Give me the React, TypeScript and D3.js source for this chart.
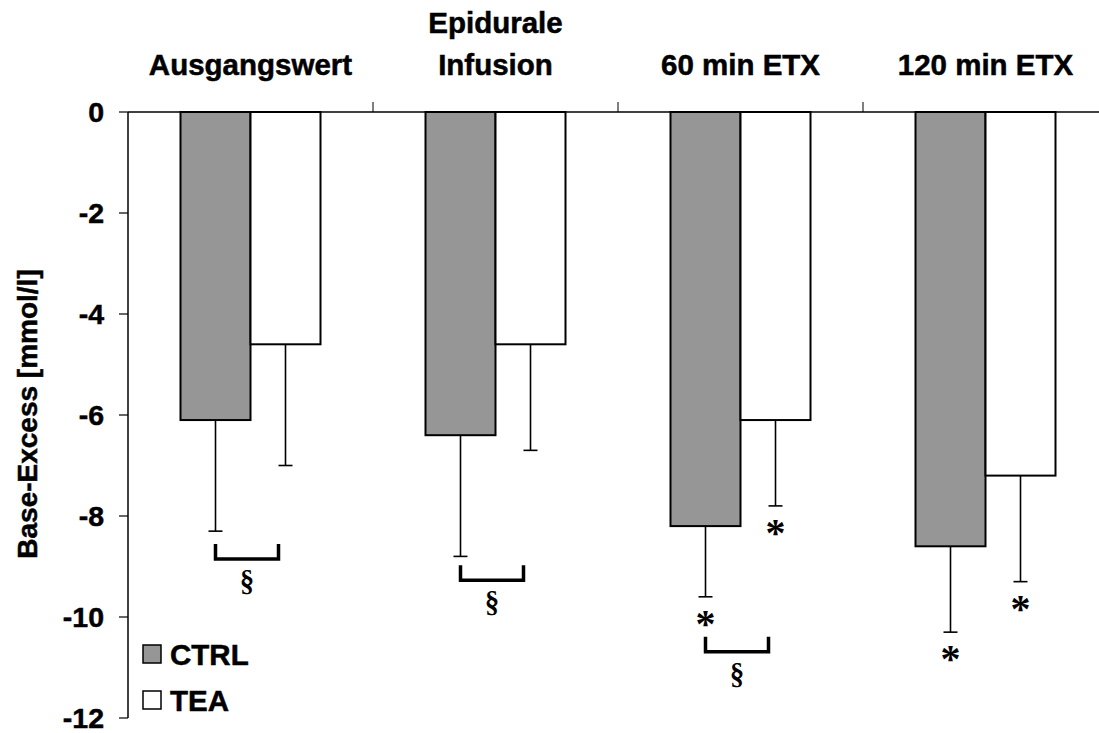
import React from "react";
import * as d3 from "d3";

// Base excess per time point, two groups (mean and SD, error bars drawn downward)
const categories = ["Ausgangswert", "Epidurale\nInfusion", "60 min ETX", "120 min ETX"];
const seriesNames = ["CTRL", "TEA"];
const ctrlMean = [-6.1, -6.4, -8.2, -8.6];
const teaMean = [-4.6, -4.6, -6.1, -7.2];
const ctrlSD = [2.2, 2.4, 1.4, 1.7];
const teaSD = [2.4, 2.1, 1.7, 2.1];
// significance vs. baseline (*)
const ctrlStar = [false, false, true, true];
const teaStar = [false, false, true, true];
// CTRL vs TEA (§) brackets: category index and bracket level
const sigBrackets = [
  { cat: 0, level: -8.85 },
  { cat: 1, level: -9.27 },
  { cat: 2, level: -10.69 },
];
const yTicks = [0, -2, -4, -6, -8, -10, -12];
const seriesFill = ["#969696", "#ffffff"];

const W = 1099;
const H = 733;
const FONT = "'Liberation Sans', Arial, sans-serif";
const SERIF = "'Liberation Serif', 'Times New Roman', serif";

// heavy bold text look
const heavy = { fontWeight: "bold" as const, stroke: "#000", strokeWidth: 0.5 };

export default function App() {
  const y = d3.scaleLinear().domain([0, -12]).range([112, 718]);
  const x = d3.scaleBand<string>().domain(categories).range([128, 1108]).padding(0);
  const barW = 70;
  const capW = 14;

  const series = [
    { name: seriesNames[0], mean: ctrlMean, sd: ctrlSD, star: ctrlStar, fill: seriesFill[0], off: -barW },
    { name: seriesNames[1], mean: teaMean, sd: teaSD, star: teaStar, fill: seriesFill[1], off: 0 },
  ];

  const center = (c: string) => (x(c) as number) + x.bandwidth() / 2;

  return (
    <svg
      width={W}
      height={H}
      style={{ position: "absolute", left: 0, top: 0, background: "#fff" }}
      fontFamily={FONT}
    >
      {/* bars */}
      {series.map((s) =>
        categories.map((c, i) => (
          <rect
            key={s.name + i}
            x={center(c) + s.off}
            y={y(0)}
            width={barW}
            height={y(s.mean[i]) - y(0)}
            fill={s.fill}
            stroke="#000"
            strokeWidth={2}
          />
        ))
      )}

      {/* error bars */}
      {series.map((s) =>
        categories.map((c, i) => {
          const cx = center(c) + s.off + barW / 2;
          const y0 = y(s.mean[i]);
          const y1 = y(s.mean[i] - s.sd[i]);
          return (
            <g key={"e" + s.name + i} stroke="#000" strokeWidth={1.6}>
              <line x1={cx} x2={cx} y1={y0} y2={y1} />
              <line x1={cx - capW / 2} x2={cx + capW / 2} y1={y1} y2={y1} />
              {s.star[i] && (
                <text
                  x={cx}
                  y={y1 + 21}
                  dy="0.48em"
                  textAnchor="middle"
                  fontFamily={SERIF}
                  fontWeight="bold"
                  fontSize={40}
                  stroke="none"
                  fill="#000"
                >
                  *
                </text>
              )}
            </g>
          );
        })
      )}

      {/* § brackets */}
      {sigBrackets.map((b) => {
        const c = categories[b.cat];
        const x0 = center(c) - barW / 2;
        const x1 = center(c) + barW / 2 - 7;
        const yb = y(b.level);
        return (
          <g key={"b" + b.cat}>
            <path
              d={`M${x0},${yb - 15}V${yb}H${x1}V${yb - 15}`}
              fill="none"
              stroke="#000"
              strokeWidth={3.5}
            />
            <text
              x={(x0 + x1) / 2}
              y={yb + 23}
              dy="0.32em"
              textAnchor="middle"
              fontFamily={SERIF}
              fontWeight="bold"
              fontSize={29}
            >
              §
            </text>
          </g>
        );
      })}

      {/* top category axis */}
      <line x1={128} x2={W} y1={y(0)} y2={y(0)} stroke="#000" strokeWidth={1.5} />
      {categories.slice(1).map((c) => (
        <line
          key={"t" + c}
          x1={x(c) as number}
          x2={x(c) as number}
          y1={y(0)}
          y2={y(0) - 10}
          stroke="#000"
          strokeWidth={1}
        />
      ))}
      {categories.map((c) => {
        const lines = c.split("\n");
        return (
          <text key={"l" + c} x={center(c)} textAnchor="middle" fontSize={29.5} {...heavy}>
            {lines.map((ln, k) => (
              <tspan key={k} x={center(c)} y={75 - (lines.length - 1 - k) * 42}>
                {ln}
              </tspan>
            ))}
          </text>
        );
      })}

      {/* y axis */}
      <line x1={128} x2={128} y1={y(0)} y2={y(-12)} stroke="#000" strokeWidth={1.5} />
      {yTicks.map((t) => (
        <g key={"y" + t}>
          <line x1={119} x2={128} y1={y(t)} y2={y(t)} stroke="#000" strokeWidth={1.2} />
          <text x={104} y={y(t)} dy="0.36em" textAnchor="end" fontSize={28.5} {...heavy}>
            {t}
          </text>
        </g>
      ))}
      <text
        transform={`translate(37,414) rotate(-90)`}
        textAnchor="middle"
        fontSize={28}
        {...heavy}
      >
        Base-Excess [mmol/l]
      </text>

      {/* legend */}
      {series.map((s, i) => (
        <g key={"lg" + s.name} transform={`translate(143,${645 + i * 46})`}>
          <rect x={0} y={0} width={18} height={18} fill={s.fill} stroke="#000" strokeWidth={1.5} />
          <text x={27} y={20} fontSize={29.5} {...heavy}>
            {s.name}
          </text>
        </g>
      ))}
    </svg>
  );
}
